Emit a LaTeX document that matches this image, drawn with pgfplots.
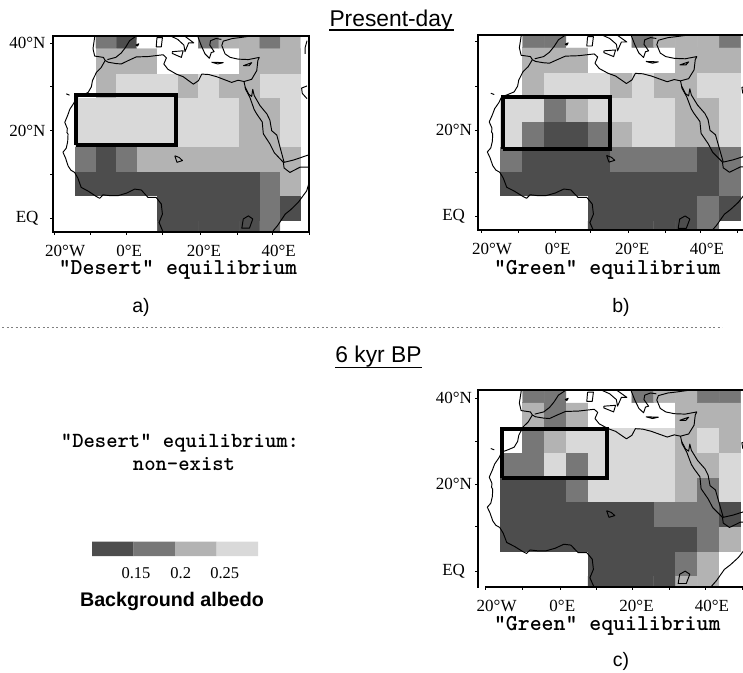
\documentclass[border=0pt]{standalone}
\usepackage{fontspec}
\setmainfont{Liberation Serif}
\setsansfont{Liberation Sans}
\usepackage{pgfplots}
\pgfplotsset{compat=1.18}
\newcommand\monof{\ttfamily\bfseries\fontsize{22.7}{25}\selectfont\addfontfeature{FakeBold=0.6}}
\newcommand\monofs{\ttfamily\bfseries\fontsize{21.6}{24}\selectfont\addfontfeature{FakeBold=0.6}}
\newcommand\ticksf{\rmfamily\fontsize{17}{19}\selectfont}
\newcommand\titlef{\sffamily\fontsize{22.8}{26}\selectfont}
\pgfplotsset{
  panel/.style={
    scale only axis, enlargelimits=false, axis on top,
    axis line style={line width=1.7pt},
    colormap={alb}{rgb255=(255,255,255) rgb255=(77,77,77) rgb255=(119,119,119) rgb255=(179,179,179) rgb255=(217,217,217)},
    point meta min=0, point meta max=4,
    tick style={black,line width=0.7pt},
    major tick length=3pt, minor tick length=3pt, tick align=outside,
    major x tick style={draw=none},
    xtick pos=bottom, ytick pos=left,
    tick label style={font=\ticksf},
    xticklabel style={anchor=base,yshift=-22pt},
    yticklabel style={xshift=-1pt},
    xlabel style={font=\monof,anchor=base},
  },
  coast/.style={black,line width=0.95pt,no markers,line join=round},
  box/.style={black,line width=4pt,no markers,line join=miter},
}
\newcommand\coasts{
 \addplot[coast] coordinates {(-5.9,36.0)(-7.0,34.4)(-8.3,33.3)(-9.4,31.4)(-9.7,30)(-10.6,28.7)(-12.5,28)(-13.8,27.6)(-14.5,26.3)(-15.6,24.9)(-16.2,23.5)(-17,21.9)(-16.3,20.5)(-16.4,19.6)(-16.1,19.2)(-16.2,17.5)(-16.6,16)(-17.5,15.1)(-16.8,13.8)(-16.1,12)(-15.3,11)(-14.3,10.5)(-13.4,9.2)(-12.5,7.1)(-10.5,6.2)(-8.3,5)(-7.4,4.6)(-6.5,5.4)(-4.5,5.2)(-2.4,5.2)(0,5.8)(2.2,6.7)(4,6.5)(5.85,4.8)(8.1,4.8)(9.5,3.3)(9.8,1)(8.9,-0.9)(10,-3.1)(10.5,-4)};
 \addplot[coast] coordinates {(-5.9,36.0)(-5.1,35.6)(-3,35.3)(-1.5,35.2)(0.5,36)(2.6,36.8)(6,36.9)(10,37.3)(10.9,36.6)(10.2,35.2)(11.3,34)(13.6,32.9)(15.5,32.3)(18.3,30.6)(19.7,31.4)(20.6,32.9)(22.5,32.8)(24.7,32.3)(28.8,31)(30.6,31.5)(32.2,31.2)(34.3,31.7)(35.7,33.7)(36,36)(36.4,36.7)(33.4,36.2)(30.6,36.3)(28.4,36.7)(27,37.5)(26.1,39.4)(26.5,40.4)(29,41)(31,41.2)(36,41.8)};
 \addplot[coast] coordinates {(32.2,31.2)(32.5,30)(33.5,28.3)(34.3,27.8)(34.6,29.4)(35,28)(36.6,25.7)(38.5,23.8)(39.3,22.4)(39.8,20)(41.2,19)(42.1,16.2)(43.2,12.8)(45.7,13.3)(50,14.5)(52,15.5)};
 \addplot[coast] coordinates {(32.5,30)(32.6,29.5)(33.8,27.6)(35,24.8)(35.7,23.8)(37.2,22)(37.5,19.3)(39.3,17)(40.5,15)(43,12.8)(43.2,11.5)(44.8,10.5)(47.6,11.7)(50.4,11.7)(51,10.5)(50,8)(49.4,6.3)(47.1,3.7)(45,2)(43.5,1)(41.5,-1.5)(40.2,-2.8)(40,-4)};
 \addplot[coast] coordinates {(-5.3,36.2)(-3,36.7)(-1.5,37.7)(-0.3,39)(0.8,40.5)(3,41.8)(3.1,43)};
 \addplot[coast] coordinates {(-5.9,36.0)(-6.4,36.7)(-8.8,37.0)(-9.25,38.7)(-8.8,41.3)(-8.8,43)};
 \addplot[coast] coordinates {(6,43.1)(8.5,44.3)(10,43)(12,41.6)(14,40.8)(15.7,39.5)(16,38)(16.5,39)(17,40)(18.4,40)(16,41.5)(14,42.3)(13,44)};
 \addplot[coast] coordinates {(12.5,38)(15.5,38.2)(15,36.7)(12.5,37.6)(12.5,38)};
 \addplot[coast] coordinates {(8.3,41.2)(8.1,39.1)(9.5,39.1)(9.8,41.2)(8.3,41.2)};
 \addplot[coast] coordinates {(2.5,39.5)(3.3,39.8)(3,39.3)(2.5,39.5)};
 \addplot[coast] coordinates {(23.3,35.6)(26.5,35.5)(25,35.2)(23.3,35.6)};
 \addplot[coast] coordinates {(32,34.8)(34.3,35.5)(33.6,34.8)(32,34.8)};
 \addplot[coast] coordinates {(-16.6,28.4)(-15.7,28.1)};
 \addplot[coast] coordinates {(19.5,41.5)(20.5,39.3)(21.5,37.5)(22.7,36.5)(23.2,37.8)(24,38)(22.8,39.5)(23,40.5)(24.5,41)(26,40.8)};
 \addplot[coast] coordinates {(13.2,14.3)(13.8,12.8)(15.3,13.2)(14.4,13.9)(13.2,14.3)};
 \addplot[coast] coordinates {(32,-0.1)(31.6,-2.2)(33.7,-2.2)(34.6,-0.1)(33.4,0.6)(32,-0.1)};
 \addplot[coast] coordinates {(49.5,30.2)(48,29.7)(48.2,28.5)(49.5,27.3)};
 \addplot[coast] coordinates {(49,37.5)(49,39)(49.5,40.5)};
}
\begin{document}
\begin{tikzpicture}[x=1pt,y=1pt]
\useasboundingbox (0,0) rectangle (743,672);

% Panel a
\begin{axis}[panel, at={(53pt,440.3pt)}, anchor=south west, width=256.3pt, height=196pt,
  xmin=-20.23, xmax=50.12, ymin=-3.0, ymax=41.64,
  xtick={-16.9,0.7,21.2,41.7}, xticklabels={20°W,0°E,20°E,40°E},
  minor xtick={-19.85,-9.9,0,9.8,20.1,30.4,40.1,50.1},
  ytick={0,20,40}, yticklabels={EQ\rule{7pt}{0pt},20°N,40°N},
  minor ytick={10,30},
  xlabel={"Desert" equilibrium},
  xlabel style={at={(axis description cs:0.4875,0)},yshift=-43pt},
]
\addplot[matrix plot*, mesh/cols=13, point meta=explicit] table[row sep=\\, x=x, y=y, meta=c] {
x y c\\
-16.875 -3.2 0\\ -11.25 -3.2 0\\ -5.625 -3.2 0\\ 0 -3.2 0\\ 5.625 -3.2 0\\ 11.25 -3.2 1\\ 16.875 -3.2 1\\ 22.5 -3.2 1\\ 28.125 -3.2 1\\ 33.75 -3.2 1\\ 39.375 -3.2 2\\ 45 -3.2 0\\ 50.625 -3.2 0\\
-16.875 2.4 0\\ -11.25 2.4 0\\ -5.625 2.4 0\\ 0 2.4 0\\ 5.625 2.4 0\\ 11.25 2.4 1\\ 16.875 2.4 1\\ 22.5 2.4 1\\ 28.125 2.4 1\\ 33.75 2.4 1\\ 39.375 2.4 2\\ 45 2.4 1\\ 50.625 2.4 0\\
-16.875 8 0\\ -11.25 8 1\\ -5.625 8 1\\ 0 8 1\\ 5.625 8 1\\ 11.25 8 1\\ 16.875 8 1\\ 22.5 8 1\\ 28.125 8 1\\ 33.75 8 1\\ 39.375 8 2\\ 45 8 3\\ 50.625 8 0\\
-16.875 13.6 0\\ -11.25 13.6 2\\ -5.625 13.6 1\\ 0 13.6 2\\ 5.625 13.6 3\\ 11.25 13.6 3\\ 16.875 13.6 3\\ 22.5 13.6 3\\ 28.125 13.6 3\\ 33.75 13.6 3\\ 39.375 13.6 3\\ 45 13.6 3\\ 50.625 13.6 0\\
-16.875 19.2 0\\ -11.25 19.2 4\\ -5.625 19.2 4\\ 0 19.2 4\\ 5.625 19.2 4\\ 11.25 19.2 4\\ 16.875 19.2 4\\ 22.5 19.2 4\\ 28.125 19.2 4\\ 33.75 19.2 3\\ 39.375 19.2 3\\ 45 19.2 4\\ 50.625 19.2 0\\
-16.875 24.8 0\\ -11.25 24.8 4\\ -5.625 24.8 4\\ 0 24.8 4\\ 5.625 24.8 4\\ 11.25 24.8 4\\ 16.875 24.8 4\\ 22.5 24.8 4\\ 28.125 24.8 4\\ 33.75 24.8 3\\ 39.375 24.8 3\\ 45 24.8 4\\ 50.625 24.8 0\\
-16.875 30.4 0\\ -11.25 30.4 0\\ -5.625 30.4 3\\ 0 30.4 4\\ 5.625 30.4 4\\ 11.25 30.4 4\\ 16.875 30.4 3\\ 22.5 30.4 4\\ 28.125 30.4 3\\ 33.75 30.4 3\\ 39.375 30.4 4\\ 45 30.4 4\\ 50.625 30.4 0\\
-16.875 36 0\\ -11.25 36 0\\ -5.625 36 3\\ 0 36 3\\ 5.625 36 3\\ 11.25 36 0\\ 16.875 36 0\\ 22.5 36 0\\ 28.125 36 0\\ 33.75 36 3\\ 39.375 36 3\\ 45 36 3\\ 50.625 36 0\\
-16.875 41.6 0\\ -11.25 41.6 0\\ -5.625 41.6 2\\ 0 41.6 1\\ 5.625 41.6 0\\ 11.25 41.6 0\\ 16.875 41.6 0\\ 22.5 41.6 2\\ 28.125 41.6 3\\ 33.75 41.6 3\\ 39.375 41.6 2\\ 45 41.6 3\\ 50.625 41.6 0\\
};
\coasts
\addplot[box] coordinates {(-13.8,16.67)(13.6,16.67)(13.6,28.06)(-13.8,28.06)(-13.8,16.67)};
\end{axis}

% Panel b
\begin{axis}[panel, at={(478pt,442pt)}, anchor=south west, width=267pt, height=195pt,
  xmin=-19.89, xmax=48.8, ymin=-2.58, ymax=41.59,
  xtick={-16.3,0.6,19.8,39}, xticklabels={20°W,0°E,20°E,40°E},
  minor xtick={-18.95,-9.51,-0.08,9.1,18.8,28.22,37.4,46.83},
  ytick={0.44,20.07}, yticklabels={EQ\rule{7pt}{0pt},20°N},
  yticklabel style={xshift=1.5pt},
  minor ytick={10.4,30.04,40.1},
  xlabel={"Green" equilibrium},
  xlabel style={at={(axis description cs:0.484,0)},yshift=-45pt},
]
\addplot[matrix plot*, mesh/cols=13, point meta=explicit] table[row sep=\\, x=x, y=y, meta=c] {
x y c\\
-16.875 -3.2 0\\ -11.25 -3.2 0\\ -5.625 -3.2 0\\ 0 -3.2 0\\ 5.625 -3.2 0\\ 11.25 -3.2 1\\ 16.875 -3.2 1\\ 22.5 -3.2 1\\ 28.125 -3.2 1\\ 33.75 -3.2 1\\ 39.375 -3.2 2\\ 45 -3.2 0\\ 50.625 -3.2 0\\
-16.875 2.4 0\\ -11.25 2.4 0\\ -5.625 2.4 0\\ 0 2.4 0\\ 5.625 2.4 0\\ 11.25 2.4 1\\ 16.875 2.4 1\\ 22.5 2.4 1\\ 28.125 2.4 1\\ 33.75 2.4 1\\ 39.375 2.4 2\\ 45 2.4 1\\ 50.625 2.4 0\\
-16.875 8 0\\ -11.25 8 1\\ -5.625 8 1\\ 0 8 1\\ 5.625 8 1\\ 11.25 8 1\\ 16.875 8 1\\ 22.5 8 1\\ 28.125 8 1\\ 33.75 8 1\\ 39.375 8 1\\ 45 8 2\\ 50.625 8 0\\
-16.875 13.6 0\\ -11.25 13.6 2\\ -5.625 13.6 1\\ 0 13.6 1\\ 5.625 13.6 1\\ 11.25 13.6 1\\ 16.875 13.6 2\\ 22.5 13.6 2\\ 28.125 13.6 2\\ 33.75 13.6 2\\ 39.375 13.6 1\\ 45 13.6 2\\ 50.625 13.6 0\\
-16.875 19.2 0\\ -11.25 19.2 4\\ -5.625 19.2 2\\ 0 19.2 1\\ 5.625 19.2 1\\ 11.25 19.2 2\\ 16.875 19.2 3\\ 22.5 19.2 4\\ 28.125 19.2 4\\ 33.75 19.2 3\\ 39.375 19.2 3\\ 45 19.2 4\\ 50.625 19.2 0\\
-16.875 24.8 0\\ -11.25 24.8 4\\ -5.625 24.8 4\\ 0 24.8 2\\ 5.625 24.8 3\\ 11.25 24.8 4\\ 16.875 24.8 4\\ 22.5 24.8 4\\ 28.125 24.8 4\\ 33.75 24.8 3\\ 39.375 24.8 3\\ 45 24.8 4\\ 50.625 24.8 0\\
-16.875 30.4 0\\ -11.25 30.4 0\\ -5.625 30.4 3\\ 0 30.4 4\\ 5.625 30.4 4\\ 11.25 30.4 4\\ 16.875 30.4 3\\ 22.5 30.4 4\\ 28.125 30.4 3\\ 33.75 30.4 3\\ 39.375 30.4 4\\ 45 30.4 4\\ 50.625 30.4 0\\
-16.875 36 0\\ -11.25 36 0\\ -5.625 36 3\\ 0 36 3\\ 5.625 36 3\\ 11.25 36 0\\ 16.875 36 0\\ 22.5 36 0\\ 28.125 36 0\\ 33.75 36 3\\ 39.375 36 3\\ 45 36 3\\ 50.625 36 0\\
-16.875 41.6 0\\ -11.25 41.6 0\\ -5.625 41.6 2\\ 0 41.6 2\\ 5.625 41.6 0\\ 11.25 41.6 0\\ 16.875 41.6 0\\ 22.5 41.6 2\\ 28.125 41.6 3\\ 33.75 41.6 3\\ 39.375 41.6 3\\ 45 41.6 2\\ 50.625 41.6 0\\
};
\coasts
\addplot[box] coordinates {(-13.5,15.84)(14,15.84)(14,27.5)(-13.5,27.5)(-13.5,15.84)};
\end{axis}

% Panel c
\begin{axis}[panel, at={(478pt,85.3pt)}, anchor=south west, width=267pt, height=196.7pt,
  xmin=-19.89, xmax=48.8, ymin=-2.93, ymax=41.67,
  xtick={-15.1,1.8,20.9,40.3}, xticklabels={20°W,0°E,20°E,40°E},
  minor xtick={-18.1,-8.4,1.38,10.47,19.9,29.3,38.6,48.2},
  ytick={0.47,20.35,39.8}, yticklabels={EQ\rule{7pt}{0pt},20°N,40°N},
  yticklabel style={xshift=1.5pt},
  minor ytick={10.7,30.1},
  xlabel={"Green" equilibrium},
  xlabel style={at={(axis description cs:0.484,0)},yshift=-43.5pt},
]
\addplot[matrix plot*, mesh/cols=13, point meta=explicit] table[row sep=\\, x=x, y=y, meta=c] {
x y c\\
-16.875 -3.2 0\\ -11.25 -3.2 0\\ -5.625 -3.2 0\\ 0 -3.2 0\\ 5.625 -3.2 0\\ 11.25 -3.2 1\\ 16.875 -3.2 1\\ 22.5 -3.2 1\\ 28.125 -3.2 1\\ 33.75 -3.2 3\\ 39.375 -3.2 3\\ 45 -3.2 0\\ 50.625 -3.2 0\\
-16.875 2.4 0\\ -11.25 2.4 0\\ -5.625 2.4 0\\ 0 2.4 0\\ 5.625 2.4 0\\ 11.25 2.4 1\\ 16.875 2.4 1\\ 22.5 2.4 1\\ 28.125 2.4 1\\ 33.75 2.4 2\\ 39.375 2.4 3\\ 45 2.4 0\\ 50.625 2.4 0\\
-16.875 8 0\\ -11.25 8 1\\ -5.625 8 1\\ 0 8 1\\ 5.625 8 1\\ 11.25 8 1\\ 16.875 8 1\\ 22.5 8 1\\ 28.125 8 1\\ 33.75 8 1\\ 39.375 8 2\\ 45 8 3\\ 50.625 8 0\\
-16.875 13.6 0\\ -11.25 13.6 1\\ -5.625 13.6 1\\ 0 13.6 1\\ 5.625 13.6 1\\ 11.25 13.6 1\\ 16.875 13.6 1\\ 22.5 13.6 1\\ 28.125 13.6 2\\ 33.75 13.6 2\\ 39.375 13.6 2\\ 45 13.6 1\\ 50.625 13.6 0\\
-16.875 19.2 0\\ -11.25 19.2 1\\ -5.625 19.2 1\\ 0 19.2 1\\ 5.625 19.2 2\\ 11.25 19.2 4\\ 16.875 19.2 4\\ 22.5 19.2 4\\ 28.125 19.2 4\\ 33.75 19.2 3\\ 39.375 19.2 2\\ 45 19.2 4\\ 50.625 19.2 0\\
-16.875 24.8 0\\ -11.25 24.8 2\\ -5.625 24.8 2\\ 0 24.8 4\\ 5.625 24.8 2\\ 11.25 24.8 4\\ 16.875 24.8 4\\ 22.5 24.8 4\\ 28.125 24.8 4\\ 33.75 24.8 3\\ 39.375 24.8 3\\ 45 24.8 4\\ 50.625 24.8 0\\
-16.875 30.4 0\\ -11.25 30.4 0\\ -5.625 30.4 2\\ 0 30.4 3\\ 5.625 30.4 4\\ 11.25 30.4 4\\ 16.875 30.4 4\\ 22.5 30.4 4\\ 28.125 30.4 4\\ 33.75 30.4 3\\ 39.375 30.4 4\\ 45 30.4 3\\ 50.625 30.4 0\\
-16.875 36 0\\ -11.25 36 0\\ -5.625 36 3\\ 0 36 2\\ 5.625 36 3\\ 11.25 36 0\\ 16.875 36 0\\ 22.5 36 0\\ 28.125 36 0\\ 33.75 36 3\\ 39.375 36 3\\ 45 36 3\\ 50.625 36 0\\
-16.875 41.6 0\\ -11.25 41.6 0\\ -5.625 41.6 2\\ 0 41.6 2\\ 5.625 41.6 0\\ 11.25 41.6 0\\ 16.875 41.6 0\\ 22.5 41.6 2\\ 28.125 41.6 3\\ 33.75 41.6 3\\ 39.375 41.6 2\\ 45 41.6 2\\ 50.625 41.6 0\\
};
\coasts
\addplot[box] coordinates {(-13.7,21.8)(13.3,21.8)(13.3,32.9)(-13.7,32.9)(-13.7,21.8)};
\end{axis}
\fill[white] (479.2,84) rectangle (484.6,86.6);

% Colour bar
\begin{axis}[scale only axis, at={(92pt,116pt)}, anchor=south west, width=166pt, height=14.3pt,
  xmin=0.1, xmax=0.3, ymin=0, ymax=1, axis line style={draw=none},
  xtick={0.153,0.207,0.26}, xticklabels={0.15,0.2,0.25}, ytick=\empty,
  major tick length=0pt, tick label style={font=\rmfamily\fontsize{16.5}{18}\selectfont},
  xticklabel style={anchor=base,yshift=-22pt},
]
\addplot[fill={rgb,255:red,77;green,77;blue,77},draw=none] coordinates {(0.1,0)(0.15,0)(0.15,1)(0.1,1)} \closedcycle;
\addplot[fill={rgb,255:red,119;green,119;blue,119},draw=none] coordinates {(0.15,0)(0.2,0)(0.2,1)(0.15,1)} \closedcycle;
\addplot[fill={rgb,255:red,179;green,179;blue,179},draw=none] coordinates {(0.2,0)(0.25,0)(0.25,1)(0.2,1)} \closedcycle;
\addplot[fill={rgb,255:red,217;green,217;blue,217},draw=none] coordinates {(0.25,0)(0.3,0)(0.3,1)(0.25,1)} \closedcycle;
\end{axis}

% Texts
\node[anchor=base,font=\titlef] at (391,645.3) {Present-day};
\draw[line width=1.3pt] (329,642) -- (454,642);
\node[anchor=base,font=\titlef] at (378.5,309.3) {6 kyr BP};
\draw[line width=1.3pt] (335,304.3) -- (422,304.3);
\draw[gray,line width=0.7pt,dash pattern=on 2pt off 2.5pt] (2,345) -- (722,345);
\node[anchor=base,font=\sffamily\fontsize{19.5}{22}\selectfont] at (141,359) {a)};
\node[anchor=base,font=\sffamily\fontsize{19.5}{22}\selectfont] at (621,359) {b)};
\node[anchor=base,font=\sffamily\fontsize{19.5}{22}\selectfont] at (621,6) {c)};
\node[anchor=base,font=\monofs] at (180,225) {"Desert" equilibrium:};
\node[anchor=base,font=\monofs] at (184,202) {non-exist};
\node[anchor=base,font=\sffamily\bfseries\fontsize{19.7}{22}\selectfont] at (172,66) {Background albedo};
\end{tikzpicture}
\end{document}
